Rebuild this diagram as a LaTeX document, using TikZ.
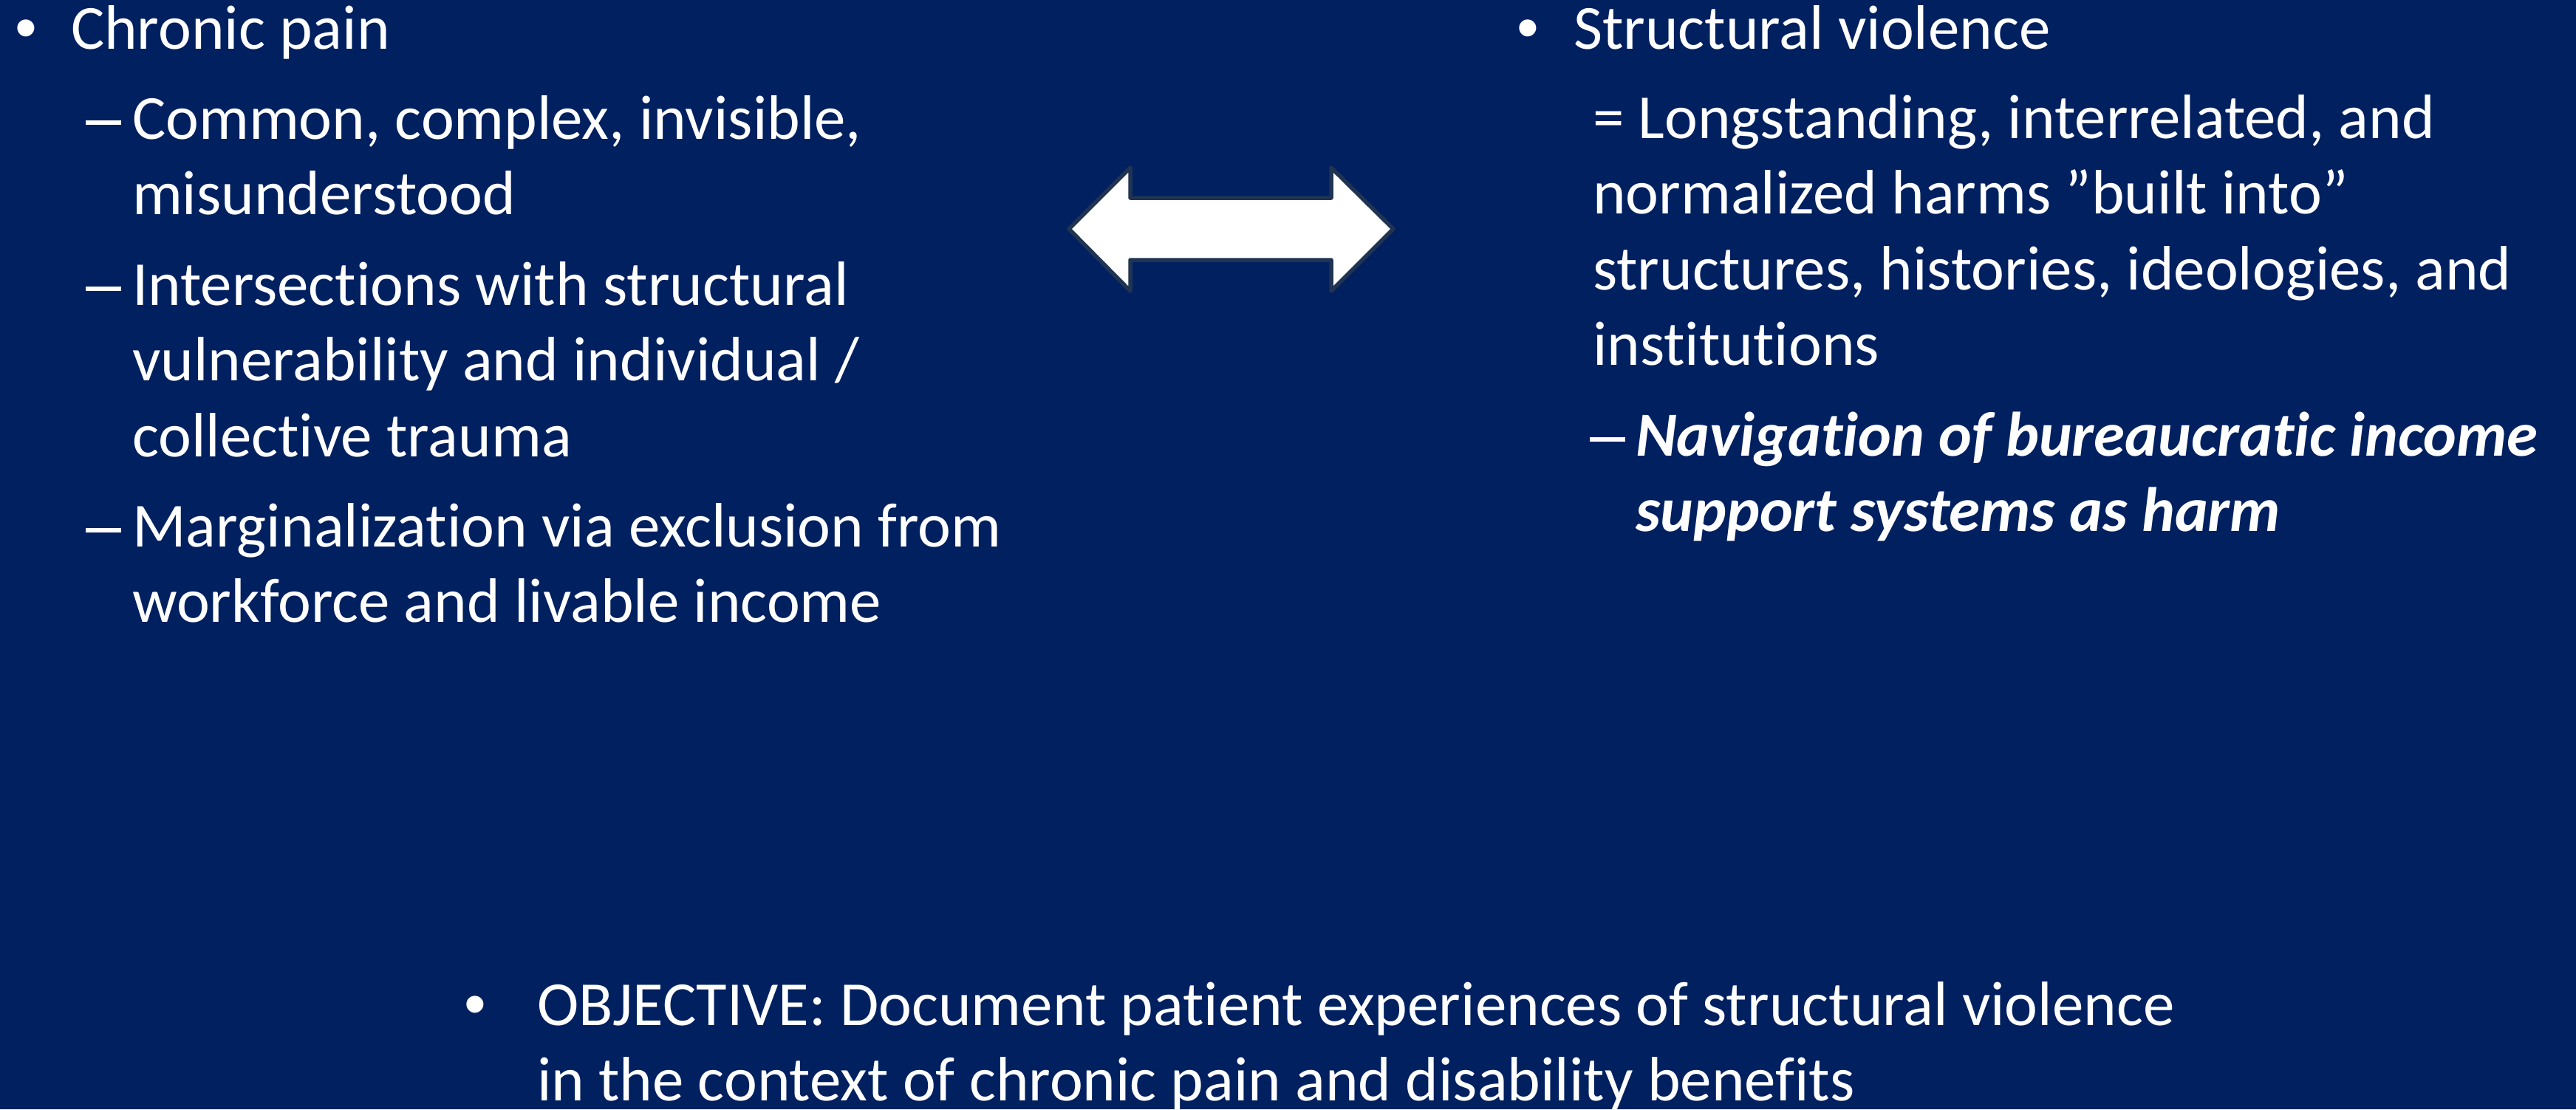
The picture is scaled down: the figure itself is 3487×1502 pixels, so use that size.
\documentclass[tikz,border=0pt]{standalone}
\usepackage{fontspec}
\setmainfont{Carlito}[Ligatures={NoCommon}]
\newfontfamily\bulletfont{Liberation Sans}
\definecolor{slidebg}{RGB}{0,32,96}
\definecolor{arrowedge}{RGB}{32,52,82}
\tikzset{
  txt/.style={anchor=base west, inner sep=0pt, outer sep=0pt, text=white,
    font=\fontsize{85}{103}\selectfont},
  bul/.style={anchor=base, inner sep=0pt, outer sep=0pt, text=white,
    font=\bulletfont\fontsize{85}{103}\selectfont},
  dsh/.style={anchor=base west, inner sep=0pt, outer sep=0pt, text=white},
  emph/.style={txt, font=\fontsize{85}{103}\selectfont\bfseries\itshape},
  blockarrow/.style={fill=white, draw=arrowedge, line width=5.5pt, line join=round}
}
\newcommand{\slidedash}{\rule[19pt]{48pt}{6pt}}
\begin{document}
\begin{tikzpicture}[x=1pt,y=-1pt]
\fill[slidebg] (0,0) rectangle (3487,1502);
\useasboundingbox (0,0) rectangle (3487,1502);
% left column
\node[bul] (lb1) at (35,66) {•};
\node[txt] (l1) at (96,66) {Chronic pain};
\node[dsh] (ld1) at (116,188) {\slidedash};
\node[txt] (l2) at (179,188) {Common, complex, invisible,};
\node[txt] (l3) at (179,290) {misunderstood};
\node[dsh] (ld2) at (116,413) {\slidedash};
\node[txt] (l4) at (179,413) {Intersections with structural};
\node[txt] (l5) at (179,515) {vulnerability and individual /};
\node[txt] (l6) at (179,618) {collective trauma};
\node[dsh] (ld3) at (116,740) {\slidedash};
\node[txt] (l7) at (179,740) {Marginalization via exclusion from};
\node[txt] (l8) at (179,842) {workforce and livable income};
% double arrow
\draw[blockarrow] (1447,310) -- (1530,227) -- (1530,268) -- (1802,268) -- (1802,227)
  -- (1886,310) -- (1802,394) -- (1802,352) -- (1530,352) -- (1530,394) -- cycle;
% right column
\node[bul] (rb1) at (2068,66) {•};
\node[txt] (r1) at (2130,66) {Structural violence};
\node[txt] (r2) at (2156,187) {= Longstanding, interrelated, and};
\node[txt] (r3) at (2156,289) {normalized harms ”built into”};
\node[txt] (r4) at (2156,392) {structures, histories, ideologies, and};
\node[txt] (r5) at (2156,494) {institutions};
\node[dsh] (rd1) at (2152,617) {\slidedash};
\node[emph] (r6) at (2214,617) {Navigation of bureaucratic income};
\node[emph] (r7) at (2214,719) {support systems as harm};
% bottom
\node[bul] (bb1) at (643,1388) {•};
\node[txt] (b1) at (727,1388) {OBJECTIVE: Document patient experiences of structural violence};
\node[txt] (b2) at (727,1490) {in the context of chronic pain and disability benefits};
\end{tikzpicture}
\end{document}
